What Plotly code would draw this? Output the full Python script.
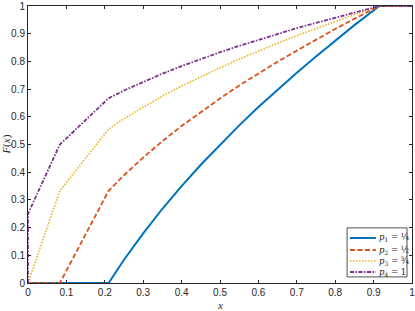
import plotly.graph_objects as go

# x positions of the curves
x_vals = [0, 0.083, 0.21, 0.25, 0.30, 0.35, 0.40, 0.45, 0.50, 0.55, 0.60, 0.65, 0.70, 0.75, 0.80, 0.85, 0.915, 1.0]

p1_vals = [0, 0, 0, 0.084, 0.179, 0.268, 0.350, 0.427, 0.499, 0.569, 0.635, 0.698, 0.759, 0.818, 0.875, 0.931, 1, 1]
p2_vals = [0, 0, 0.333, 0.389, 0.453, 0.512, 0.567, 0.618, 0.666, 0.713, 0.757, 0.799, 0.839, 0.879, 0.917, 0.954, 1, 1]
p3_vals = [0, 0.333, 0.556, 0.593, 0.635, 0.675, 0.711, 0.745, 0.777, 0.808, 0.838, 0.866, 0.893, 0.919, 0.944, 0.969, 1, 1]
# p4 starts with a jump at x = 0 from 0 to 0.25
p4_x = [0] + x_vals
p4_vals = [0, 0.25, 0.5, 0.667, 0.695, 0.726, 0.756, 0.783, 0.809, 0.833, 0.856, 0.878, 0.899, 0.920, 0.939, 0.958, 0.977, 1, 1]

names = ["<i>p</i><sub>1</sub> = ¼", "<i>p</i><sub>2</sub> = ½",
         "<i>p</i><sub>3</sub> = ¾", "<i>p</i><sub>4</sub> = 1"]
colors = ["#0072BD", "#D95319", "#EDB120", "#7E2F8E"]
dashes = ["solid", "5px,2.5px", "1.5px,1.5px", "4px,1.5px,1.5px,1.5px"]
widths = [2, 1.8, 1.6, 1.8]
tick_vals = [0, 0.1, 0.2, 0.3, 0.4, 0.5, 0.6, 0.7, 0.8, 0.9, 1]
tick_text = ["0", "0.1", "0.2", "0.3", "0.4", "0.5", "0.6", "0.7", "0.8", "0.9", "1"]

xs = [x_vals, x_vals, x_vals, p4_x]
ys = [p1_vals, p2_vals, p3_vals, p4_vals]

fig = go.Figure()
for i in range(4):
    fig.add_trace(go.Scatter(x=xs[i], y=ys[i], mode="lines", name=names[i],
                             line=dict(color=colors[i], width=widths[i], dash=dashes[i]),
                             cliponaxis=False, showlegend=False))

axis_common = dict(range=[0, 1], tickvals=tick_vals, ticktext=tick_text, ticks="inside",
                   ticklen=3, tickcolor="#262626", showline=True, linecolor="#262626",
                   linewidth=1, mirror="ticks", showgrid=False, zeroline=False,
                   automargin=False, ticklabeloverflow="allow",
                   tickfont=dict(family="Liberation Sans, Arial", size=10, color="#262626"))

# compact legend box (bottom right), in paper coordinates
shapes = [dict(type="rect", xref="paper", yref="paper", x0=0.831, x1=0.987, y0=0.022, y1=0.199,
               line=dict(color="#262626", width=0.8), fillcolor="white", layer="above")]
annotations = []
row_y = [0.1625, 0.1191, 0.0794, 0.0397]
for i in range(4):
    shapes.append(dict(type="line", xref="paper", yref="paper", x0=0.8385, x1=0.906,
                       y0=row_y[i], y1=row_y[i], layer="above",
                       line=dict(color=colors[i], width=widths[i], dash=dashes[i])))
    annotations.append(dict(text=names[i], x=0.909, y=row_y[i], xref="paper", yref="paper",
                            xanchor="left", yanchor="middle", showarrow=False,
                            font=dict(family="DejaVu Serif, Liberation Serif", size=8.5,
                                      color="#262626")))

annotations += [
    dict(text="<i>x</i>", x=0.5, y=-0.08, xref="paper", yref="paper",
         xanchor="center", yanchor="middle",
         showarrow=False, font=dict(family="Liberation Serif", size=11, color="#262626")),
    dict(text="<i>F</i>(<i>x</i>)", x=-0.057, y=0.5, xref="paper", yref="paper",
         xanchor="center", yanchor="middle",
         textangle=-90, showarrow=False,
         font=dict(family="Liberation Serif", size=11, color="#262626")),
]

fig.update_layout(
    width=415, height=311,
    margin=dict(l=28, r=3, t=6, b=28),
    paper_bgcolor="white", plot_bgcolor="white",
    xaxis=axis_common, yaxis=axis_common,
    showlegend=False,
    shapes=shapes,
    annotations=annotations,
)

fig.write_html("out.html", config={"displayModeBar": False},
               post_script="document.body.style.margin='0';document.body.style.overflow='hidden';")
